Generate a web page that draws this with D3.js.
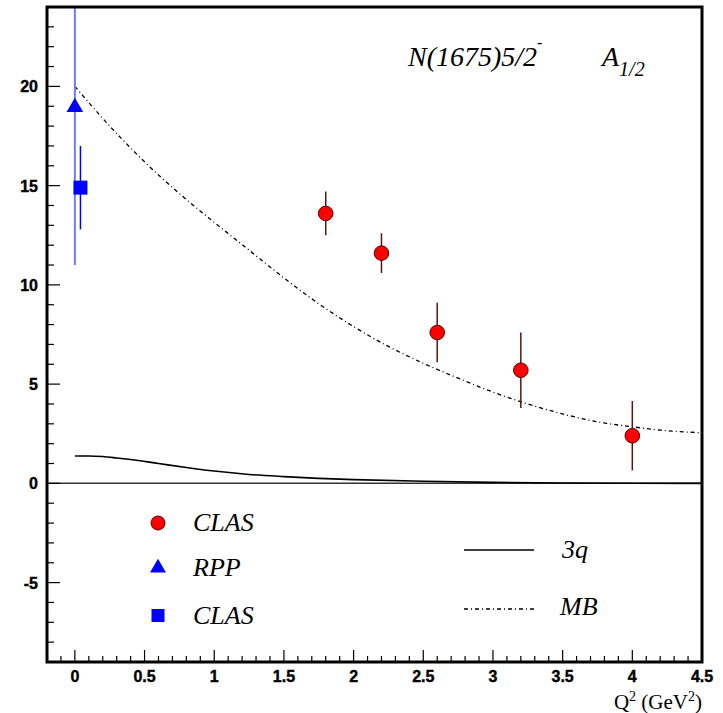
<!DOCTYPE html>
<html>
<head>
<meta charset="utf-8">
<script src="https://cdn.jsdelivr.net/npm/d3@7"></script>
<style>
  html, body { margin: 0; padding: 0; background: #fff; }
  svg { display: block; }
  .tick-label { font-family: "Liberation Sans", Arial, sans-serif; font-weight: bold; font-size: 16px; fill: #000; stroke: #000; stroke-width: 0.4px; }
  .serif-it { font-family: "Liberation Serif", "Times New Roman", serif; font-style: italic; fill: #000; }
  .serif { font-family: "Liberation Serif", "Times New Roman", serif; fill: #000; }
</style>
</head>
<body>
<svg id="chart" width="723" height="713"></svg>
<script>
// CLAS (red circles): Q^2, A1/2, error
const clasQ2 = [1.8, 2.2, 2.6, 3.2, 4.0];
const clasA = [13.6, 11.6, 7.6, 5.7, 2.4];
const clasErr = [1.1, 1.0, 1.5, 1.9, 1.75];

// RPP photon point (blue triangle)
const rppQ2 = [0.0];
const rppA = [19.0];
const rppErr = [8.0];

// CLAS photon point (blue square)
const clasPhotQ2 = [0.04];
const clasPhotA = [14.9];
const clasPhotErr = [2.1];

// 3q model curve (solid)
const q3Q2 = [0, 0.1, 0.2, 0.3, 0.4, 0.6, 0.8, 1.0, 1.25, 1.5, 1.75, 2.0, 2.5, 3.0, 3.5, 4.0, 4.5];
const q3A  = [1.38, 1.38, 1.35, 1.28, 1.2, 1.0, 0.8, 0.62, 0.45, 0.34, 0.25, 0.19, 0.11, 0.05, 0.02, 0.005, 0.0];

// MB model curve (dash-dot)
const mbQ2 = [0, 0.25, 0.5, 0.75, 1.0, 1.25, 1.5, 1.75, 2.0, 2.25, 2.5, 2.75, 3.0, 3.25, 3.5, 3.75, 4.0, 4.25, 4.5];
const mbA  = [20.0, 18.0, 16.2, 14.6, 13.15, 11.75, 10.35, 9.05, 7.9, 6.9, 6.05, 5.3, 4.6, 4.0, 3.5, 3.1, 2.85, 2.65, 2.55];

// Axis tick labels
const xTickVals = [0, 0.5, 1, 1.5, 2, 2.5, 3, 3.5, 4, 4.5];
const xTickText = ["0", "0.5", "1", "1.5", "2", "2.5", "3", "3.5", "4", "4.5"];
const yTickVals = [-5, 0, 5, 10, 15, 20];
const yTickText = ["-5", "0", "5", "10", "15", "20"];

const svg = d3.select("#chart");
const pLeft = 47, pRight = 702, pTop = 7, pBottom = 662;

const x = d3.scaleLinear().domain([-0.2, 4.5]).range([pLeft, pRight]);
const y = d3.scaleLinear().domain([-9, 24]).range([pBottom, pTop]);

svg.append("defs").append("clipPath").attr("id", "plotclip")
  .append("rect").attr("x", pLeft).attr("y", pTop).attr("width", pRight - pLeft).attr("height", pBottom - pTop);

const plot = svg.append("g").attr("clip-path", "url(#plotclip)");

// zero line
plot.append("line")
  .attr("x1", pLeft).attr("x2", pRight)
  .attr("y1", y(0)).attr("y2", y(0))
  .attr("stroke", "#333").attr("stroke-width", 1.5);

// model curves
const line = (xs, ys) => d3.line().curve(d3.curveMonotoneX)
  .x((d, i) => x(xs[i])).y((d, i) => y(ys[i]))(xs);

plot.append("path").attr("d", line(q3Q2, q3A))
  .attr("fill", "none").attr("stroke", "#000").attr("stroke-width", 1.6);

plot.append("path").attr("d", line(mbQ2, mbA))
  .attr("fill", "none").attr("stroke", "#000").attr("stroke-width", 1.3)
  .attr("stroke-dasharray", "4,3,1,3");

// RPP error bar
rppQ2.forEach((q, i) => {
  plot.append("line")
    .attr("x1", x(q)).attr("x2", x(q))
    .attr("y1", y(rppA[i] + rppErr[i])).attr("y2", y(rppA[i] - rppErr[i]))
    .attr("stroke", "#6f7cf5").attr("stroke-width", 2);
});

// CLAS photon-point error bar and square
clasPhotQ2.forEach((q, i) => {
  plot.append("line")
    .attr("x1", x(q)).attr("x2", x(q))
    .attr("y1", y(clasPhotA[i] + clasPhotErr[i])).attr("y2", y(clasPhotA[i] - clasPhotErr[i]))
    .attr("stroke", "#0000ff").attr("stroke-width", 1.5);
  plot.append("rect")
    .attr("x", x(q) - 7).attr("y", y(clasPhotA[i]) - 7)
    .attr("width", 14).attr("height", 14)
    .attr("fill", "#0000ff");
});

// RPP triangle
rppQ2.forEach((q, i) => {
  plot.append("path")
    .attr("d", d3.symbol().type(d3.symbolTriangle).size(120)())
    .attr("transform", `translate(${x(q)},${y(rppA[i]) + 1})`)
    .attr("fill", "#0000ff");
});

// CLAS electroproduction points
clasQ2.forEach((q, i) => {
  plot.append("line")
    .attr("x1", x(q)).attr("x2", x(q))
    .attr("y1", y(clasA[i] + clasErr[i])).attr("y2", y(clasA[i] - clasErr[i]))
    .attr("stroke", "#5a1414").attr("stroke-width", 1.5);
  plot.append("circle")
    .attr("cx", x(q)).attr("cy", y(clasA[i])).attr("r", 7.3)
    .attr("fill", "#ff0000").attr("stroke", "#5a0000").attr("stroke-width", 1);
});

// ticks
const axisG = svg.append("g");
// y ticks (inside, from left axis)
d3.range(-8, 24, 1).forEach(v => {
  const major = v % 5 === 0;
  axisG.append("line")
    .attr("x1", pLeft).attr("x2", pLeft + (major ? 13 : 7))
    .attr("y1", y(v)).attr("y2", y(v))
    .attr("stroke", "#000").attr("stroke-width", 1.2);
});
// x ticks (inside, from bottom axis)
d3.range(-1, 45, 1).map(v => v / 10).forEach(v => {
  const major = Math.abs(v * 2 - Math.round(v * 2)) < 1e-6;
  axisG.append("line")
    .attr("x1", x(v)).attr("x2", x(v))
    .attr("y1", pBottom).attr("y2", pBottom - (major ? 12 : 6))
    .attr("stroke", "#000").attr("stroke-width", 1.2);
});

// frame
svg.append("rect")
  .attr("x", pLeft).attr("y", pTop).attr("width", pRight - pLeft).attr("height", pBottom - pTop)
  .attr("fill", "none").attr("stroke", "#000").attr("stroke-width", 3);

// tick labels
yTickVals.forEach((v, i) => {
  svg.append("text").attr("class", "tick-label")
    .attr("x", 38).attr("y", y(v) + 6)
    .attr("text-anchor", "end").attr("font-size", 17)
    .text(yTickText[i]);
});
xTickVals.forEach((v, i) => {
  svg.append("text").attr("class", "tick-label")
    .attr("x", x(v)).attr("y", 682)
    .attr("text-anchor", "middle")
    .text(xTickText[i]);
});

// axis title
const xt = svg.append("text").attr("class", "serif")
  .attr("x", 702).attr("y", 709).attr("text-anchor", "end").attr("font-size", 21);
xt.append("tspan").text("Q");
xt.append("tspan").attr("dy", -8).attr("font-size", 14).text("2");
xt.append("tspan").attr("dy", 8).text(" (GeV");
xt.append("tspan").attr("dy", -8).attr("font-size", 14).text("2");
xt.append("tspan").attr("dy", 8).text(")");

// title
const t1 = svg.append("text").attr("class", "serif-it")
  .attr("x", 408).attr("y", 66).attr("font-size", 28);
t1.append("tspan").text("N(1675)5/2");
t1.append("tspan").attr("dy", -18).attr("font-size", 16).text("-");

const t2 = svg.append("text").attr("class", "serif-it")
  .attr("x", 602).attr("y", 66).attr("font-size", 28);
t2.append("tspan").text("A");
t2.append("tspan").attr("dy", 10).attr("font-size", 20).text("1/2");

// legend: markers
const legX = 158;
svg.append("circle").attr("cx", legX).attr("cy", 523).attr("r", 7)
  .attr("fill", "#ff0000").attr("stroke", "#5a0000").attr("stroke-width", 1);
svg.append("path")
  .attr("d", d3.symbol().type(d3.symbolTriangle).size(110)())
  .attr("transform", `translate(${legX},${568})`).attr("fill", "#0000ff");
svg.append("rect").attr("x", legX - 6.5).attr("y", 609).attr("width", 13).attr("height", 13)
  .attr("fill", "#0000ff");

const legText = ["CLAS", "RPP", "CLAS"];
const legY = [531, 576, 624];
legText.forEach((s, i) => {
  svg.append("text").attr("class", "serif-it")
    .attr("x", 193).attr("y", legY[i]).attr("font-size", 26).text(s);
});

// legend: model lines
svg.append("line").attr("x1", 464).attr("x2", 534).attr("y1", 550).attr("y2", 550)
  .attr("stroke", "#000").attr("stroke-width", 1.6);
svg.append("line").attr("x1", 464).attr("x2", 534).attr("y1", 609).attr("y2", 609)
  .attr("stroke", "#000").attr("stroke-width", 1.3).attr("stroke-dasharray", "4,3,1,3");
svg.append("text").attr("class", "serif-it").attr("x", 562).attr("y", 558).attr("font-size", 26).text("3q");
svg.append("text").attr("class", "serif-it").attr("x", 560).attr("y", 615).attr("font-size", 26).text("MB");
</script>
</body>
</html>
